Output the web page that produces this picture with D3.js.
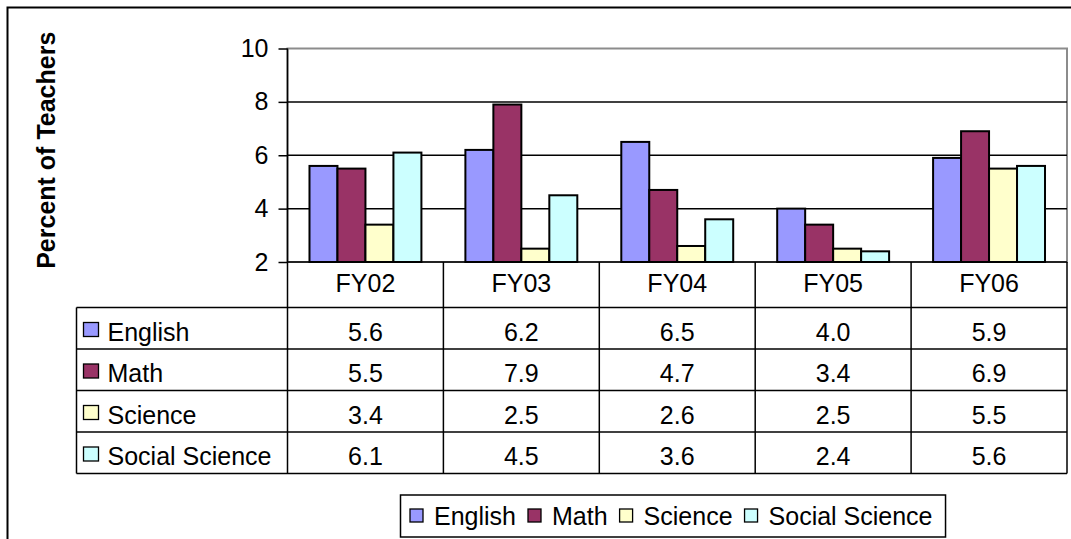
<!DOCTYPE html>
<html>
<head>
<meta charset="utf-8">
<script src="https://cdn.jsdelivr.net/npm/d3@7"></script>
<style>
  body { margin: 0; background: #fff; }
  svg text { font-family: "Liberation Sans", Arial, sans-serif; fill: #000; }
</style>
</head>
<body>
<svg class="grafico-d3-svg"></svg>
<script>
// dados
const categorias = ["FY02", "FY03", "FY04", "FY05", "FY06"];
const series     = ["English", "Math", "Science", "Social Science"];
const english    = [5.6, 6.2, 6.5, 4.0, 5.9];
const math       = [5.5, 7.9, 4.7, 3.4, 6.9];
const science    = [3.4, 2.5, 2.6, 2.5, 5.5];
const social     = [6.1, 4.5, 3.6, 2.4, 5.6];
const y_ticks    = [2, 4, 6, 8, 10];
const cores      = ["#9999ff", "#993366", "#ffffcc", "#ccffff"];
const titulo_y   = "Percent of Teachers";

const valores = [english, math, science, social];

const w = 1071, h = 539;
const FONTE = 25;

// area do grafico
const X0 = 287.5, X1 = 1067, Y_TOP = 48.5, Y_BASE = 262;
// tabela
const TAB_ESQ = 76.5, HEADER_FIM = 307.5, LINHA_H = 41.5;

const $svg = d3.select(".grafico-d3-svg")
               .attr("width", w)
               .attr("height", h);

// moldura externa (so aparece em cima e a esquerda)
$svg.append("rect")
    .attr("x", 7.5).attr("y", 7.5)
    .attr("width", w + 20).attr("height", h + 20)
    .attr("fill", "none")
    .attr("stroke", "#000")
    .attr("stroke-width", 2);

const x = d3.scaleBand()
    .domain(categorias)
    .range([X0, X1]);

const x_serie = d3.scaleBand()
    .domain(series)
    .range([0, x.bandwidth()])
    .paddingOuter(0.786);

const y = d3.scaleLinear()
    .domain([2, 10])
    .range([Y_BASE, Y_TOP]);

// borda cinza da area de plotagem
$svg.append("rect")
    .attr("x", X0).attr("y", Y_TOP)
    .attr("width", X1 - X0).attr("height", Y_BASE - Y_TOP)
    .attr("fill", "none")
    .attr("stroke", "#8c8c8c")
    .attr("stroke-width", 2);

// linhas de grade
$svg.append("g")
    .selectAll("line")
    .data(y_ticks.filter(d => d > 2 && d < 10))
    .enter()
    .append("line")
    .attr("x1", X0).attr("x2", X1)
    .attr("y1", d => y(d)).attr("y2", d => y(d))
    .attr("stroke", "#000")
    .attr("stroke-width", 1.5);

// barras
const grupos = $svg.append("g")
    .selectAll("g")
    .data(series)
    .enter()
    .append("g")
    .attr("fill", (d, i) => cores[i]);

grupos.selectAll("rect")
    .data((s, i) => valores[i].map((v, j) => ({serie: s, cat: categorias[j], v: v})))
    .enter()
    .append("rect")
    .attr("x", d => x(d.cat) + x_serie(d.serie))
    .attr("y", d => y(d.v))
    .attr("width", x_serie.bandwidth())
    .attr("height", d => y(2) - y(d.v))
    .attr("stroke", "#000")
    .attr("stroke-width", 2);

// eixo y
const eixo_y = $svg.append("g")
    .attr("transform", `translate(${X0},0)`)
    .call(d3.axisLeft(y).tickValues(y_ticks).tickSize(9).tickPadding(10).tickFormat(d3.format("d")));

eixo_y.select(".domain").remove();
eixo_y.selectAll(".tick line").attr("stroke", "#000").attr("stroke-width", 1.5);
eixo_y.selectAll("text")
      .style("font-family", "Liberation Sans, Arial, sans-serif")
      .style("font-size", FONTE + "px")
      .attr("fill", "#000");

// titulo do eixo
$svg.append("text")
    .attr("transform", `translate(55,${(Y_TOP + Y_BASE) / 2 - 5}) rotate(-90)`)
    .attr("text-anchor", "middle")
    .style("font-size", "25px")
    .style("font-weight", "bold")
    .text(titulo_y);

// tabela de dados
const TAB_FIM = HEADER_FIM + LINHA_H * series.length;
const $tab = $svg.append("g").attr("stroke", "#000").attr("stroke-width", 1.5);

// linhas horizontais
$tab.append("line").attr("x1", X0).attr("x2", X1).attr("y1", Y_BASE).attr("y2", Y_BASE);
d3.range(series.length + 1).forEach(function(i) {
    const yy = HEADER_FIM + i * LINHA_H;
    $tab.append("line").attr("x1", TAB_ESQ).attr("x2", X1).attr("y1", yy).attr("y2", yy);
});

// linhas verticais
$tab.append("line").attr("x1", TAB_ESQ).attr("x2", TAB_ESQ).attr("y1", HEADER_FIM).attr("y2", TAB_FIM);
categorias.concat(["fim"]).forEach(function(c, i) {
    const xx = X0 + i * x.bandwidth();
    $tab.append("line")
        .attr("x1", xx).attr("x2", xx)
        .attr("y1", i == 0 ? Y_TOP : Y_BASE).attr("y2", TAB_FIM);
});

// cabecalho
$svg.append("g")
    .selectAll("text")
    .data(categorias)
    .enter()
    .append("text")
    .attr("x", d => x(d) + x.bandwidth() / 2)
    .attr("y", Y_BASE + 30)
    .attr("text-anchor", "middle")
    .style("font-size", FONTE + "px")
    .text(d => d);

// linhas de valores
series.forEach(function(s, i) {
    const topo = HEADER_FIM + i * LINHA_H;

    $svg.append("rect")
        .attr("x", 83.5).attr("y", topo + 15)
        .attr("width", 15).attr("height", 14)
        .attr("fill", cores[i])
        .attr("stroke", "#000")
        .attr("stroke-width", 1.3);

    $svg.append("text")
        .attr("x", 107.5)
        .attr("y", topo + 33)
        .style("font-size", FONTE + "px")
        .text(s);

    $svg.append("g")
        .selectAll("text")
        .data(valores[i])
        .enter()
        .append("text")
        .attr("x", (d, j) => x(categorias[j]) + x.bandwidth() / 2)
        .attr("y", topo + 33)
        .attr("text-anchor", "middle")
        .style("font-size", FONTE + "px")
        .text(d => d3.format(".1f")(d));
});

// legenda
const $leg = $svg.append("g");
const leg_box = $leg.append("rect")
    .attr("y", 495).attr("height", 42)
    .attr("fill", "#fff")
    .attr("stroke", "#000")
    .attr("stroke-width", 1.5);

const GAP = 12;
let pos_x = 410;
series.forEach(function(s, i) {
    $leg.append("rect")
        .attr("x", pos_x).attr("y", 509)
        .attr("width", 13).attr("height", 13)
        .attr("fill", cores[i])
        .attr("stroke", "#000")
        .attr("stroke-width", 1.3);
    const t = $leg.append("text")
        .attr("x", pos_x + 24)
        .attr("y", 525)
        .style("font-size", FONTE + "px")
        .text(s);
    pos_x += 24 + t.node().getComputedTextLength() + GAP;
});
leg_box.attr("x", 400.5).attr("width", pos_x - GAP + 13 - 400.5);
</script>
</body>
</html>
